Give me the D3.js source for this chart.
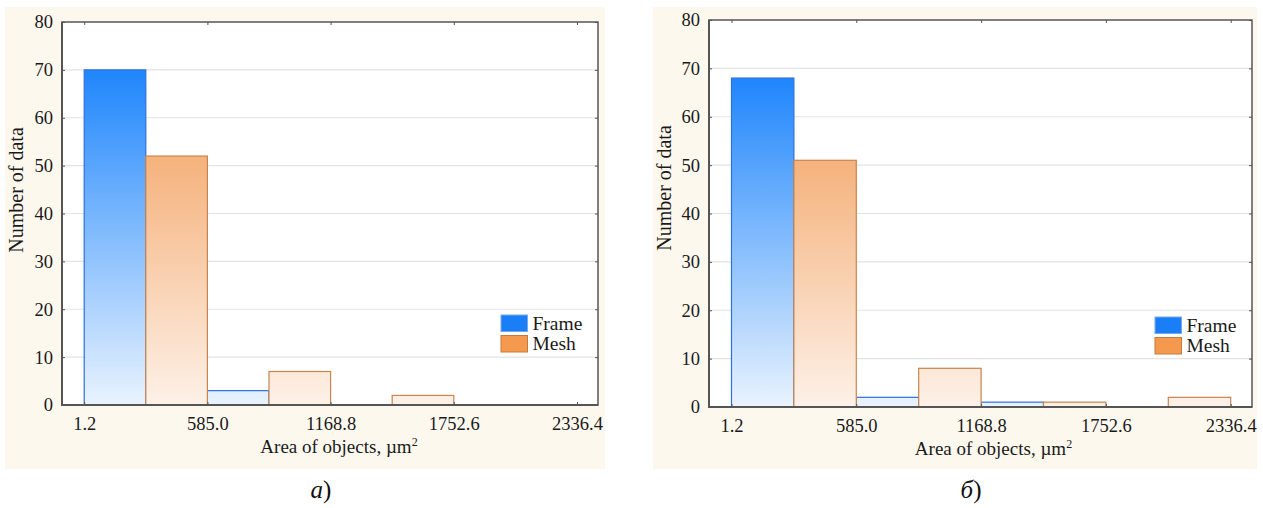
<!DOCTYPE html>
<html>
<head>
<meta charset="utf-8">
<script src="https://cdn.jsdelivr.net/npm/d3@7"></script>
<style>
  body { margin: 0; background: #fff; }
  svg { display: block; }
  svg text { font-family: "Liberation Serif", "Times New Roman", Tinos, "DejaVu Serif", "Noto Serif", serif !important; }
</style>
</head>
<body>
<svg id="chart" width="1263" height="508"></svg>
<script>
// bin edges of the histogram (area of objects, um^2)
const binEdges = [1.2, 585.0, 1168.8, 1752.6, 2336.4];
const tickLabels = ['1.2', '585.0', '1168.8', '1752.6', '2336.4'];
const yTicks = [0, 10, 20, 30, 40, 50, 60, 70, 80];
const seriesNames = ['Frame', 'Mesh'];

// counts per bin, panel a)
const frameA = [70, 3, 0, 0];
const meshA = [52, 7, 2, 0];
// counts per bin, panel б)
const frameB = [68, 2, 1, 0];
const meshB = [51, 8, 1, 2];

const svg = d3.select('#chart');

const colors = {
  Frame: { top: '#1f86fc', bottom: '#e9f3fe', stroke: '#2f6fe0', legend: '#1a7ff6', legendStroke: '#76a9ee' },
  Mesh: { top: '#f5b27c', bottom: '#fdf1e8', stroke: '#c9844e', legend: '#f5994f', legendStroke: '#c87a3d' }
};

function drawPanel(id, box, plot, series, caption, titleDx) {
  const g = svg.append('g').attr('class', 'panel-' + id);

  // cream background
  g.append('rect')
    .attr('x', box.x).attr('y', box.y)
    .attr('width', box.w).attr('height', box.h)
    .attr('fill', '#fdf8ee');

  g.append('rect')
    .attr('x', plot.left).attr('y', plot.top)
    .attr('width', plot.right - plot.left).attr('height', plot.bottom - plot.top)
    .attr('fill', '#fff');

  const x = d3.scaleLinear().domain([-104, 2436]).range([plot.left, plot.right]);
  const y = d3.scaleLinear().domain([0, 80]).range([plot.bottom, plot.top]);

  // grid lines
  g.append('g')
    .selectAll('line')
    .data(yTicks.filter(d => d > 0 && d < 80))
    .enter().append('line')
    .attr('x1', plot.left).attr('x2', plot.right)
    .attr('y1', d => y(d)).attr('y2', d => y(d))
    .attr('stroke', '#e3e3e3').attr('stroke-width', 1.2);

  // gradients in user space so short bars stay pale
  const defs = g.append('defs');
  series.forEach(s => {
    const grad = defs.append('linearGradient')
      .attr('id', `grad-${id}-${s.name}`)
      .attr('gradientUnits', 'userSpaceOnUse')
      .attr('x1', 0).attr('x2', 0)
      .attr('y1', y(0)).attr('y2', y(d3.max(s.values)));
    grad.append('stop').attr('offset', 0).attr('stop-color', colors[s.name].bottom);
    grad.append('stop').attr('offset', 1).attr('stop-color', colors[s.name].top);
  });

  // bars: Frame in first half of bin, Mesh in second half
  series.forEach((s, si) => {
    g.append('g')
      .selectAll('rect')
      .data(s.values.map((v, i) => ({ v, i })).filter(d => d.v > 0))
      .enter().append('rect')
      .attr('x', d => {
        const mid = (binEdges[d.i] + binEdges[d.i + 1]) / 2;
        return si === 0 ? x(binEdges[d.i]) : x(mid);
      })
      .attr('width', d => {
        const mid = (binEdges[d.i] + binEdges[d.i + 1]) / 2;
        return x(mid) - x(binEdges[d.i]);
      })
      .attr('y', d => y(d.v))
      .attr('height', d => y(0) - y(d.v))
      .attr('fill', `url(#grad-${id}-${s.name})`)
      .attr('stroke', colors[s.name].stroke)
      .attr('stroke-width', 1.2);
  });

  // frame around plot
  const frame = g.append('g').attr('stroke', '#555').attr('fill', 'none');
  frame.append('rect')
    .attr('x', plot.left).attr('y', plot.top)
    .attr('width', plot.right - plot.left).attr('height', plot.bottom - plot.top)
    .attr('stroke-width', 1.5);
  frame.append('line')
    .attr('x1', plot.left).attr('x2', plot.left)
    .attr('y1', plot.top).attr('y2', plot.bottom + 1)
    .attr('stroke-width', 2);
  frame.append('line')
    .attr('x1', plot.left).attr('x2', plot.right)
    .attr('y1', plot.bottom).attr('y2', plot.bottom)
    .attr('stroke-width', 2);

  // axes (inward ticks) using d3 axis generators
  const tickFont = g => g.selectAll('text')
    .attr('font-size', 18.5).attr('fill', '#1a1a1a');

  const xAxis = g.append('g')
    .attr('transform', `translate(0,${plot.bottom})`)
    .call(d3.axisBottom(x).tickValues(binEdges).tickFormat((d, i) => tickLabels[i])
      .tickSizeInner(-3).tickSizeOuter(0).tickPadding(12));
  xAxis.select('.domain').remove();
  xAxis.selectAll('line').attr('stroke', '#555');
  xAxis.call(tickFont);

  const xTop = g.append('g')
    .attr('transform', `translate(0,${plot.top})`)
    .call(d3.axisTop(x).tickValues(binEdges).tickFormat('').tickSizeInner(-3).tickSizeOuter(0));
  xTop.select('.domain').remove();
  xTop.selectAll('line').attr('stroke', '#555');

  const yAxis = g.append('g')
    .attr('transform', `translate(${plot.left},0)`)
    .call(d3.axisLeft(y).tickValues(yTicks).tickFormat(d3.format('d'))
      .tickSizeInner(-3).tickSizeOuter(0).tickPadding(9));
  yAxis.select('.domain').remove();
  yAxis.selectAll('line').attr('stroke', '#555');
  yAxis.call(tickFont);

  const yRight = g.append('g')
    .attr('transform', `translate(${plot.right},0)`)
    .call(d3.axisRight(y).tickValues(yTicks).tickFormat('').tickSizeInner(-3).tickSizeOuter(0));
  yRight.select('.domain').remove();
  yRight.selectAll('line').attr('stroke', '#555');

  // axis titles
  const xt = g.append('text')
    .attr('x', (plot.left + plot.right) / 2 + titleDx)
    .attr('y', plot.bottom + 48)
    .attr('text-anchor', 'middle')
    .attr('font-size', 19).attr('fill', '#1a1a1a');
  xt.append('tspan').text('Area of objects, µm');
  xt.append('tspan').text('2').attr('font-size', 12).attr('dy', -7);

  g.append('text')
    .attr('transform', `translate(${box.x + 18},${plot.top + 168}) rotate(-90)`)
    .attr('text-anchor', 'middle')
    .attr('font-size', 20).attr('fill', '#1a1a1a')
    .text('Number of data');

  // legend
  const lg = g.append('g')
    .attr('transform', `translate(${plot.right - 97},${y(0) - 90})`);
  seriesNames.forEach((name, i) => {
    lg.append('rect')
      .attr('x', 0).attr('y', i * 20.5)
      .attr('width', 26.5).attr('height', 16.5)
      .attr('fill', colors[name].legend)
      .attr('stroke', colors[name].legendStroke).attr('stroke-width', 1);
    lg.append('text')
      .attr('x', 31.5).attr('y', i * 20.5 + 14.5)
      .attr('font-size', 19.5).attr('fill', '#1a1a1a')
      .text(name);
  });

  // caption under the panel
  const cap = svg.append('text')
    .attr('x', (box.x + box.x + box.w) / 2 + 16)
    .attr('y', 498)
    .attr('text-anchor', 'middle')
    .attr('font-size', 25).attr('fill', '#111');
  cap.append('tspan').attr('font-style', 'italic').text(caption);
  cap.append('tspan').text(')');
}

drawPanel('a',
  { x: 5, y: 7, w: 600, h: 462 },
  { left: 62, right: 598, top: 22, bottom: 405 },
  [{ name: 'Frame', values: frameA }, { name: 'Mesh', values: meshA }],
  'a', 9);

drawPanel('b',
  { x: 653, y: 7, w: 604, h: 462 },
  { left: 709, right: 1252, top: 20, bottom: 407 },
  [{ name: 'Frame', values: frameB }, { name: 'Mesh', values: meshB }],
  'б', 13);
</script>
</body>
</html>
